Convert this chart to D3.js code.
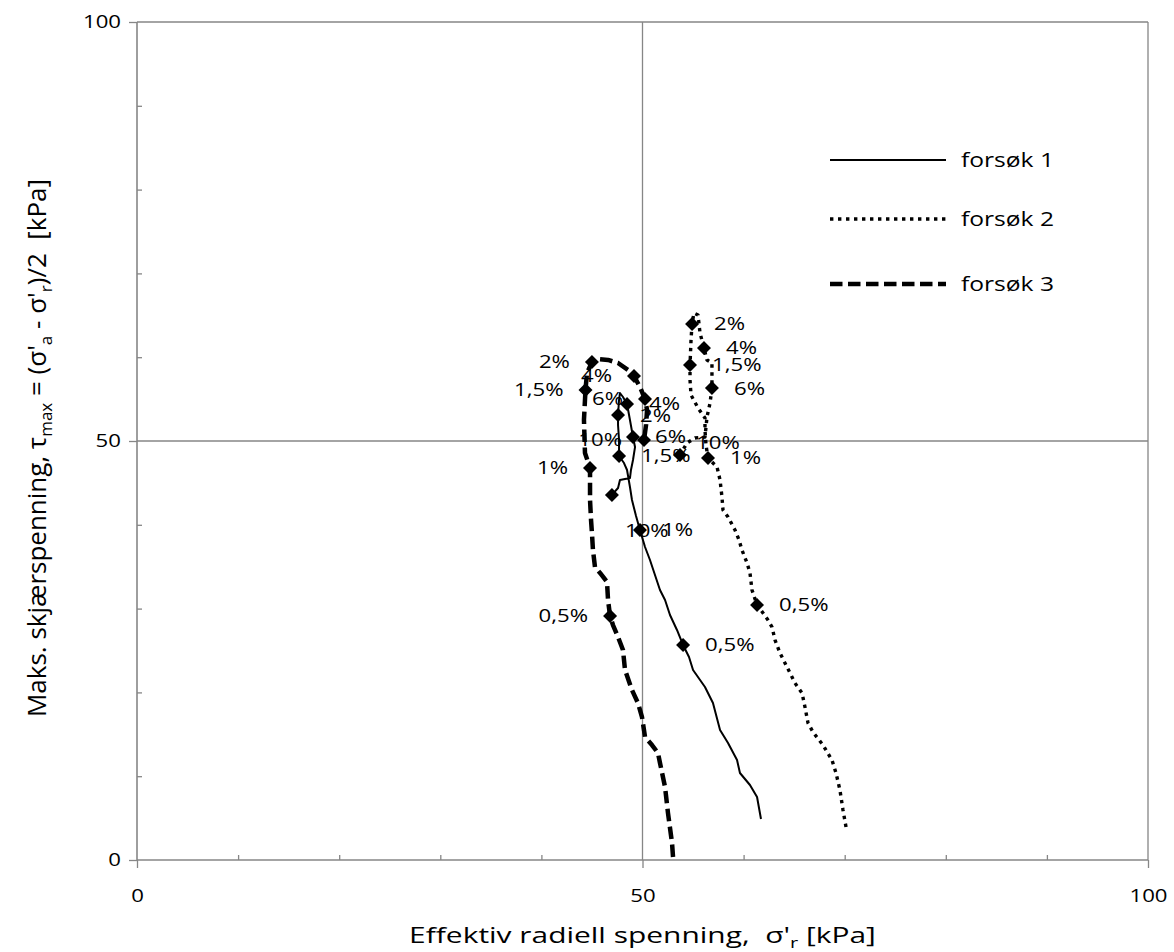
<!DOCTYPE html>
<html>
<head>
<meta charset="utf-8">
<script src="https://cdn.jsdelivr.net/npm/d3@7"></script>
<style>
  body { margin: 0; background: #fff; }
  text { font-family: "Open Sans", "Noto Sans", sans-serif; fill: #000; }
</style>
</head>
<body>
<svg id="chart" width="1174" height="952"></svg>
<script>
// Effective radial stress σ'r [kPa] and max shear stress τmax [kPa] along each test

const forsok1X = [61.72, 61.33, 60.63, 59.64, 59.35, 58.46, 57.67, 56.97, 56.18, 55.0, 54.6, 54.01, 53.41, 52.72, 52.23, 51.73, 50.74, 50.25, 49.75, 49.36, 48.96, 48.76, 48.47, 48.17, 47.68, 47.68, 47.58, 47.58, 47.68, 47.77, 48.07, 48.47, 48.76, 49.06, 49.26, 49.06, 48.86, 48.76, 48.27, 47.77, 47.58, 46.98];
const forsok1Y = [4.89, 7.52, 8.95, 10.38, 11.93, 13.96, 15.51, 18.74, 20.64, 22.67, 24.22, 25.66, 27.45, 29.24, 31.03, 32.22, 35.8, 37.35, 39.38, 41.05, 42.96, 44.51, 46.54, 47.37, 48.21, 50.12, 51.91, 53.1, 54.89, 55.73, 55.25, 54.42, 52.51, 50.48, 49.28, 47.73, 46.54, 45.58, 45.47, 45.35, 44.39, 43.56];
const forsok1Marks = [11, 18, 24, 27, 31, 33, 41];

const forsok2X = [70.13, 69.83, 69.53, 69.14, 68.74, 67.85, 66.86, 66.37, 66.07, 65.78, 65.08, 64.59, 64.09, 63.6, 63.11, 62.81, 62.41, 61.92, 61.33, 60.83, 60.63, 60.34, 59.84, 59.55, 59.15, 58.46, 57.96, 57.86, 57.67, 57.37, 56.48, 56.28, 56.18, 56.18, 55.49, 54.8, 54.7, 54.7, 54.8, 54.9, 55.09, 55.49, 55.69, 56.08, 56.38, 56.87, 56.87, 56.87, 56.68, 56.38, 56.18, 55.19, 54.4, 53.71];
const forsok2Y = [3.94, 5.97, 8.35, 10.38, 11.93, 13.72, 15.27, 16.35, 18.26, 19.93, 21.12, 22.32, 23.51, 24.7, 26.25, 27.8, 28.64, 29.47, 30.43, 32.22, 34.25, 35.44, 36.99, 38.19, 39.38, 40.93, 41.77, 43.32, 45.35, 46.9, 47.97, 49.52, 51.31, 52.74, 53.94, 55.49, 57.28, 59.07, 62.05, 63.96, 65.27, 65.04, 62.89, 61.1, 59.67, 59.31, 57.88, 56.32, 54.53, 52.86, 50.48, 50.36, 49.76, 48.33];
const forsok2Marks = [18, 30, 37, 39, 43, 47, 53];

const forsok3X = [53.02, 52.92, 52.52, 52.23, 51.73, 51.53, 50.94, 50.25, 49.95, 49.55, 48.96, 48.27, 48.07, 47.58, 47.08, 46.79, 46.59, 46.49, 45.8, 45.3, 45.1, 45.0, 44.91, 44.81, 44.81, 44.31, 44.21, 44.36, 44.51, 45.0, 45.6, 46.59, 47.58, 48.57, 49.16, 49.75, 50.25, 50.45, 50.35, 50.15];
const forsok3Y = [0.36, 2.03, 5.61, 8.71, 11.58, 12.77, 13.72, 14.68, 17.06, 18.74, 20.29, 22.67, 25.06, 26.61, 28.04, 29.12, 31.03, 33.17, 34.25, 34.96, 36.99, 39.02, 40.57, 42.96, 46.78, 48.57, 52.51, 56.09, 58.11, 59.43, 59.79, 59.67, 59.31, 58.47, 57.76, 56.44, 55.01, 53.7, 51.91, 50.12];
const forsok3Marks = [15, 24, 27, 29, 34, 36, 39];

// axial strain at each marked point
const strainLabels = ["0,5%", "1%", "1,5%", "2%", "4%", "6%", "10%"];

const seriesNames = ["forsøk 1", "forsøk 2", "forsøk 3"];

const xMajorTicks = [0, 50, 100];
const yMajorTicks = [0, 50, 100];
const minorTicks = [10, 20, 30, 40, 60, 70, 80, 90];

// ---------------------------------------------------------------
const svg = d3.select("#chart");
const plot = { left: 137, right: 1148, top: 22, bottom: 860 };
const STRETCH = 1.2;        // text is drawn slightly wide
const GREY = "#868686";
const NBSP = "\u00a0";

const x = d3.scaleLinear().domain([0, 100]).range([plot.left, plot.right]);
const y = d3.scaleLinear().domain([0, 100]).range([plot.bottom, plot.top]);

const styles = [
  { width: 2,   dash: null,       cap: "butt" },
  { width: 3.4, dash: "3.4 4.6",  cap: "butt" },
  { width: 4.5, dash: "12.5 5.5", cap: "butt" }
];

// major gridlines at 50 and 100
const grid = svg.append("g").attr("stroke", GREY).attr("stroke-width", 1.3);
[50, 100].forEach(v => {
  grid.append("line").attr("x1", x(0)).attr("x2", x(100)).attr("y1", y(v)).attr("y2", y(v));
  grid.append("line").attr("y1", y(0)).attr("y2", y(100)).attr("x1", x(v)).attr("x2", x(v));
});

// axes: inner minor ticks, outer major ticks with labels
function styleAxis(g) {
  g.select(".domain").remove();
  g.selectAll(".tick line").attr("stroke", GREY).attr("stroke-width", 1.3);
  g.selectAll(".tick text").attr("font-size", 18.5).attr("fill", "#000")
    .attr("font-family", '"Open Sans", sans-serif');
}
svg.append("g").attr("transform", `translate(${plot.left},0)`)
  .call(d3.axisRight(y).tickValues(minorTicks).tickSize(5).tickFormat(""))
  .call(styleAxis);
svg.append("g").attr("transform", `translate(0,${plot.bottom})`)
  .call(d3.axisTop(x).tickValues(minorTicks).tickSize(5).tickFormat(""))
  .call(styleAxis);

const yAxis = svg.append("g").attr("transform", `translate(${plot.left},0)`)
  .call(d3.axisLeft(y).tickValues(yMajorTicks).tickSize(8).tickPadding(8).tickFormat(d3.format("d")))
  .call(styleAxis);
yAxis.selectAll(".tick text").each(function () {
  const t = d3.select(this);
  t.attr("transform", `translate(${t.attr("x")},0) scale(${STRETCH},1)`).attr("x", 0);
});
const xAxis = svg.append("g").attr("transform", `translate(0,${plot.bottom})`)
  .call(d3.axisBottom(x).tickValues(xMajorTicks).tickSize(8).tickPadding(21).tickFormat(d3.format("d")))
  .call(styleAxis);
xAxis.selectAll(".tick text").attr("transform", `scale(${STRETCH},1)`);

// axis lines at zero
svg.append("line").attr("x1", x(0)).attr("x2", x(100)).attr("y1", y(0)).attr("y2", y(0))
  .attr("stroke", GREY).attr("stroke-width", 1.6);
svg.append("line").attr("x1", x(0)).attr("x2", x(0)).attr("y1", y(0)).attr("y2", y(100))
  .attr("stroke", GREY).attr("stroke-width", 1.6);

// axis titles
const xTitle = svg.append("text")
  .attr("transform", `translate(${x(50)},943) scale(1.33,1)`)
  .attr("text-anchor", "middle").attr("font-size", 22.5);
xTitle.append("tspan").text("Effektiv radiell spenning," + NBSP + NBSP + "σ'");
xTitle.append("tspan").attr("font-size", 15).attr("dy", 5).text("r");
xTitle.append("tspan").attr("dy", -5).text(NBSP + "[kPa]");

const yTitle = svg.append("text")
  .attr("transform", `translate(46,${y(50) + 7}) rotate(-90) scale(1,0.95)`)
  .attr("text-anchor", "middle").attr("font-size", 26);
yTitle.append("tspan").text("Maks. skjærspenning, τ");
yTitle.append("tspan").attr("font-size", 17).attr("dy", 6).text("max");
yTitle.append("tspan").attr("dy", -6).text(" = (σ'");
yTitle.append("tspan").attr("font-size", 17).attr("dy", 6).text("a");
yTitle.append("tspan").attr("dy", -6).text(" - σ'");
yTitle.append("tspan").attr("font-size", 17).attr("dy", 6).text("r");
yTitle.append("tspan").attr("dy", -6).text(")/2" + NBSP + NBSP + "[kPa]");

// series
const series = [
  { xs: forsok1X, ys: forsok1Y, marks: forsok1Marks, side: "right" },
  { xs: forsok2X, ys: forsok2Y, marks: forsok2Marks, side: "right" },
  { xs: forsok3X, ys: forsok3Y, marks: forsok3Marks, side: "left" }
];
// label nudges (px) for crowded points: [series index, strain label, dx, dy]
const labelNudges = [[0, "10%", -9, 36], [1, "10%", -6, -12]];

const line = d3.line().x(d => x(d[0])).y(d => y(d[1]));
const diamond = r => `M0,${-r}L${r},0L0,${r}L${-r},0Z`;

series.forEach((s, i) => {
  const pts = s.xs.map((v, k) => [v, s.ys[k]]);
  const st = styles[i];
  svg.append("path").datum(pts).attr("d", line)
    .attr("fill", "none").attr("stroke", "#000")
    .attr("stroke-width", st.width).attr("stroke-dasharray", st.dash)
    .attr("stroke-linecap", st.cap).attr("stroke-linejoin", "round");
});

series.forEach((s, i) => {
  const g = svg.append("g");
  s.marks.forEach((idx, k) => {
    const px = x(s.xs[idx]), py = y(s.ys[idx]);
    g.append("path").attr("d", diamond(7)).attr("transform", `translate(${px},${py})`).attr("fill", "#000");
    const nudge = labelNudges.find(n => n[0] === i && n[1] === strainLabels[k]);
    const dx = nudge ? nudge[2] : 0, dy = nudge ? nudge[3] : 0;
    const lx = (s.side === "right" ? px + 22 : px - 22) + dx;
    g.append("text")
      .attr("transform", `translate(${lx},${py + dy}) scale(${STRETCH},1)`)
      .attr("text-anchor", s.side === "right" ? "start" : "end")
      .attr("dy", "0.35em").attr("font-size", 18.5)
      .text(strainLabels[k]);
  });
});

// legend
const legendY = [160, 219, 284];
seriesNames.forEach((name, i) => {
  const st = styles[i];
  svg.append("line").attr("x1", 830).attr("x2", 946).attr("y1", legendY[i]).attr("y2", legendY[i])
    .attr("stroke", "#000").attr("stroke-width", st.width)
    .attr("stroke-dasharray", st.dash).attr("stroke-linecap", st.cap);
  svg.append("text").attr("transform", `translate(961,${legendY[i]}) scale(${STRETCH},1)`)
    .attr("dy", "0.35em").attr("font-size", 20.5).text(name);
});
</script>
</body>
</html>
